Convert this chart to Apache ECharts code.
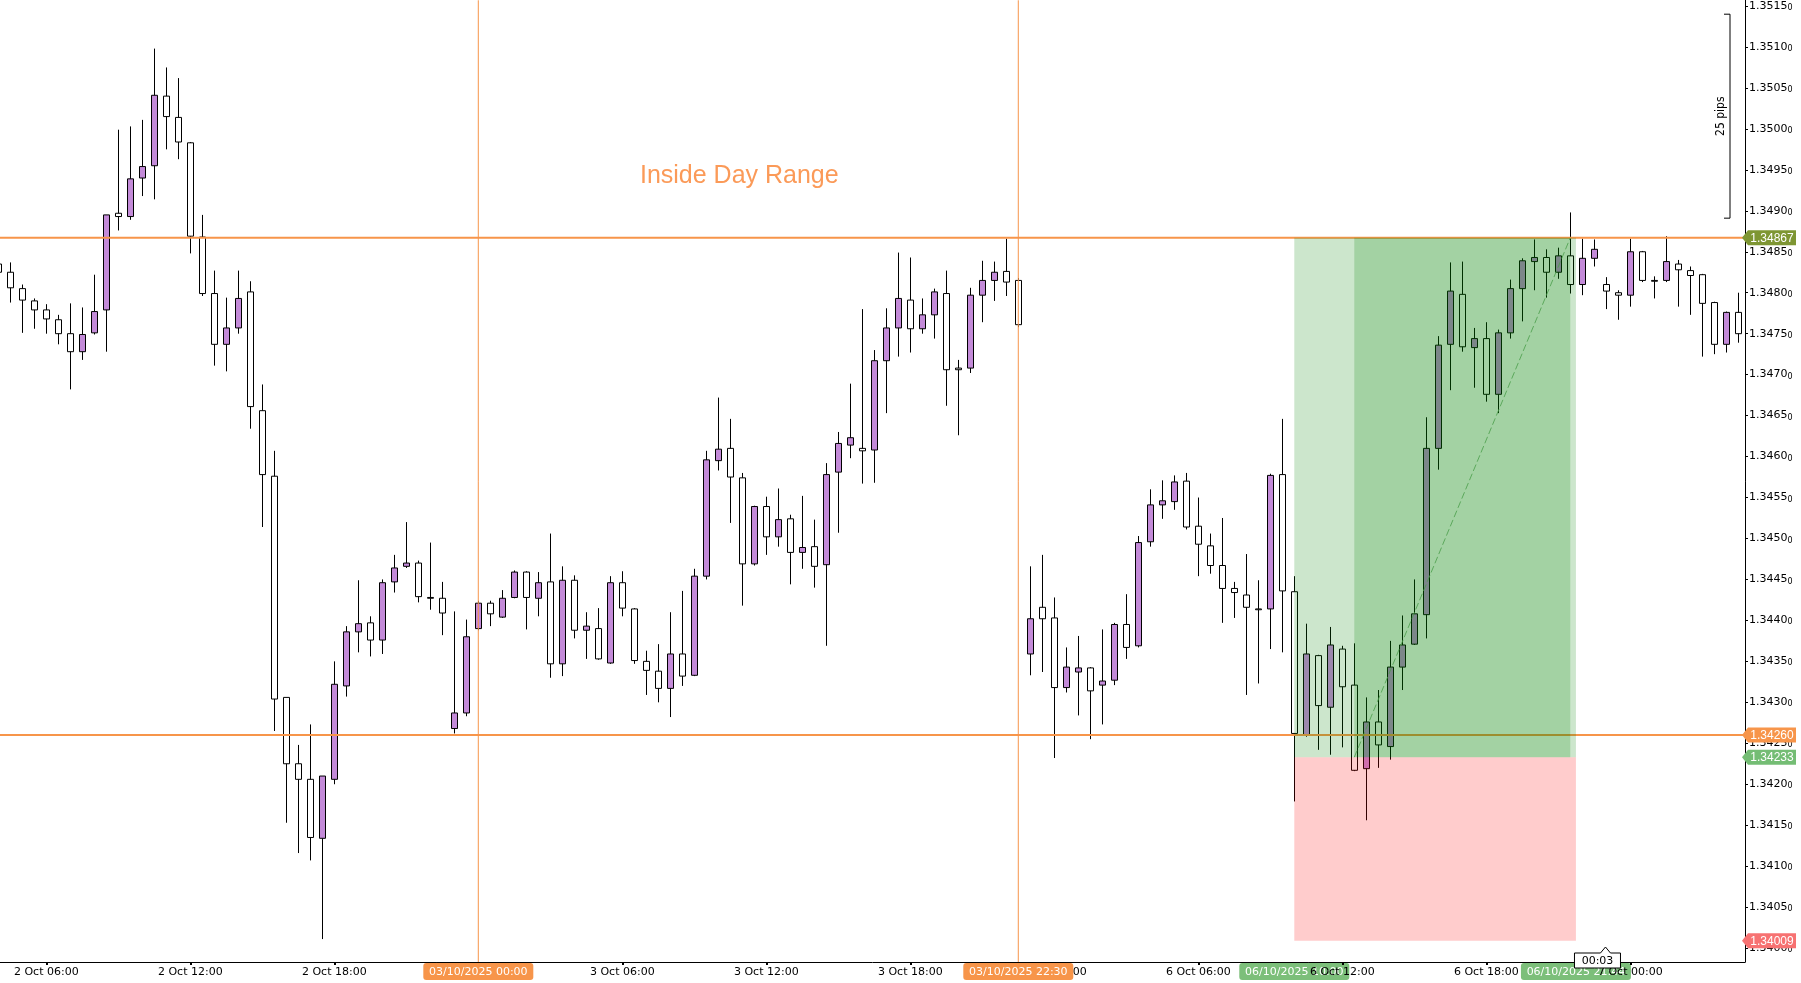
<!DOCTYPE html>
<html><head><meta charset="utf-8">
<script src="https://cdn.jsdelivr.net/npm/echarts@6/dist/echarts.min.js"></script>
<style>html,body{margin:0;padding:0;background:#fff;overflow:hidden}#c{width:1801px;height:983px}</style>
</head><body><div id="c"></div>
<script>
// ---- data (30-minute candles, index 0 = 2 Oct 04:00) ----
const opens = [1.34835,1.34825,1.34805,1.34790,1.34779,1.34767,1.34750,1.34728,1.34751,1.34779,
1.34897,1.34893,1.34940,1.34955,1.35040,1.35014,1.34983,1.34868,1.34799,1.34737,
1.34757,1.34801,1.34656,1.34576,1.34306,1.34225,1.34206,1.34134,1.34206,1.34320,
1.34386,1.34397,1.34376,1.34447,1.34466,1.34470,1.34428,1.34427,1.34268,1.34287,
1.34390,1.34421,1.34404,1.34428,1.34459,1.34427,1.34447,1.34347,1.34449,1.34388,
1.34390,1.34348,1.34446,1.34414,1.34350,1.34338,1.34317,1.34359,1.34333,1.34454,
1.34595,1.34610,1.34574,1.34469,1.34539,1.34502,1.34524,1.34483,1.34490,1.34468,
1.34581,1.34614,1.34610,1.34608,1.34717,1.34757,1.34791,1.34756,1.34773,1.34799,
1.34708,1.34708,1.34797,1.34815,1.34826,1.34815,1.34359,1.34416,1.34403,1.34318,
1.34337,1.34342,1.34321,1.34327,1.34395,1.34369,1.34496,1.34541,1.34545,1.34570,
1.34515,1.34491,1.34467,1.34439,1.34431,1.34414,1.34414,1.34578,1.34435,1.34260,
1.34357,1.34294,1.34365,1.34321,1.34219,1.34276,1.34246,1.34343,1.34371,1.34407,
1.34610,1.34737,1.34798,1.34733,1.34744,1.34676,1.34751,1.34805,1.34838,1.34843,
1.34825,1.34845,1.34810,1.34842,1.34810,1.34800,1.34797,1.34850,1.34815,1.34815,
1.34835,1.34827,1.34822,1.34788,1.34737,1.34776];
const closes = [1.34825,1.34806,1.34791,1.34779,1.34768,1.34750,1.34728,1.34749,1.34777,1.34895,
1.34893,1.34939,1.34954,1.35041,1.35015,1.34984,1.34869,1.34799,1.34737,1.34757,
1.34793,1.34661,1.34578,1.34304,1.34225,1.34206,1.34135,1.34210,1.34322,1.34386,
1.34396,1.34376,1.34446,1.34464,1.34470,1.34429,1.34427,1.34409,1.34287,1.34380,
1.34421,1.34408,1.34427,1.34459,1.34428,1.34446,1.34347,1.34449,1.34388,1.34393,
1.34353,1.34446,1.34415,1.34351,1.34339,1.34317,1.34359,1.34332,1.34454,1.34596,
1.34609,1.34575,1.34469,1.34539,1.34502,1.34523,1.34483,1.34489,1.34466,1.34578,
1.34616,1.34623,1.34607,1.34717,1.34757,1.34793,1.34756,1.34773,1.34801,1.34706,
1.34706,1.34797,1.34815,1.34825,1.34813,1.34761,1.34402,1.34402,1.34318,1.34343,
1.34342,1.34314,1.34326,1.34395,1.34367,1.34495,1.34541,1.34546,1.34569,1.34514,
1.34493,1.34467,1.34439,1.34434,1.34416,1.34413,1.34577,1.34436,1.34262,1.34359,
1.34296,1.34370,1.34319,1.34217,1.34276,1.34248,1.34343,1.34370,1.34408,1.34610,
1.34736,1.34802,1.34734,1.34744,1.34676,1.34751,1.34805,1.34839,1.34843,1.34825,
1.34845,1.34810,1.34842,1.34853,1.34802,1.34797,1.34850,1.34815,1.34814,1.34838,
1.34828,1.34821,1.34787,1.34737,1.34776,1.34750];
const lows = [1.34820,1.34788,1.34751,1.34756,1.34750,1.34737,1.34682,1.34718,1.34749,1.34728,
1.34876,1.34889,1.34918,1.34914,1.34975,1.34963,1.34848,1.34796,1.34711,1.34704,
1.34750,1.34634,1.34514,1.34265,1.34153,1.34116,1.34107,1.34011,1.34200,1.34307,
1.34361,1.34356,1.34359,1.34434,1.34464,1.34422,1.34413,1.34382,1.34262,1.34283,
1.34388,1.34393,1.34403,1.34427,1.34389,1.34405,1.34330,1.34332,1.34378,1.34353,
1.34352,1.34347,1.34405,1.34347,1.34309,1.34300,1.34282,1.34320,1.34332,1.34450,
1.34583,1.34519,1.34418,1.34467,1.34480,1.34490,1.34444,1.34463,1.34440,1.34369,
1.34507,1.34598,1.34567,1.34568,1.34653,1.34722,1.34727,1.34750,1.34744,1.34662,
1.34626,1.34702,1.34764,1.34790,1.34796,1.34758,1.34333,1.34337,1.34232,1.34312,
1.34284,1.34255,1.34273,1.34321,1.34353,1.34367,1.34490,1.34524,1.34535,1.34511,
1.34454,1.34457,1.34397,1.34403,1.34309,1.34323,1.34365,1.34361,1.34179,1.34258,
1.34242,1.34236,1.34245,1.34216,1.34156,1.34220,1.34230,1.34315,1.34370,1.34378,
1.34584,1.34681,1.34728,1.34684,1.34667,1.34653,1.34744,1.34765,1.34803,1.34794,
1.34817,1.34799,1.34797,1.34832,1.34780,1.34767,1.34783,1.34813,1.34793,1.34813,
1.34783,1.34773,1.34722,1.34725,1.34727,1.34739];
const highs = [1.34842,1.34837,1.34810,1.34793,1.34786,1.34773,1.34787,1.34782,1.34822,1.34895,
1.34999,1.35003,1.35011,1.35098,1.35075,1.35062,1.34984,1.34895,1.34827,1.34794,
1.34827,1.34814,1.34688,1.34607,1.34306,1.34248,1.34273,1.34210,1.34350,1.34393,
1.34449,1.34405,1.34450,1.34480,1.34520,1.34473,1.34495,1.34447,1.34411,1.34401,
1.34424,1.34424,1.34437,1.34461,1.34460,1.34459,1.34506,1.34466,1.34455,1.34410,
1.34415,1.34454,1.34460,1.34415,1.34363,1.34371,1.34410,1.34436,1.34463,1.34607,
1.34672,1.34646,1.34580,1.34540,1.34551,1.34561,1.34529,1.34552,1.34523,1.34592,
1.34630,1.34689,1.34780,1.34730,1.34781,1.34849,1.34843,1.34793,1.34805,1.34827,
1.34718,1.34806,1.34839,1.34838,1.34866,1.34818,1.34466,1.34480,1.34428,1.34367,
1.34381,1.34343,1.34389,1.34397,1.34432,1.34503,1.34560,1.34571,1.34577,1.34580,
1.34550,1.34506,1.34525,1.34447,1.34481,1.34449,1.34579,1.34646,1.34454,1.34396,
1.34358,1.34392,1.34369,1.34372,1.34306,1.34315,1.34375,1.34406,1.34450,1.34648,
1.34747,1.34837,1.34838,1.34757,1.34764,1.34755,1.34816,1.34842,1.34865,1.34853,
1.34855,1.34898,1.34866,1.34865,1.34819,1.34803,1.34866,1.34851,1.34820,1.34869,
1.34840,1.34832,1.34823,1.34789,1.34777,1.34800];

const xTickPos = [4,16,28,40,52,64,76,88,100,112,124,136];
const xTickLabels = ['2 Oct 06:00','2 Oct 12:00','2 Oct 18:00','3 Oct 00:00','3 Oct 06:00','3 Oct 12:00',
  '3 Oct 18:00','6 Oct 00:00','6 Oct 06:00','6 Oct 12:00','6 Oct 18:00','7 Oct 00:00'];
const yTicks = [1.3400,1.3405,1.3410,1.3415,1.3420,1.3425,1.3430,1.3435,1.3440,1.3445,1.3450,1.3455,
  1.3460,1.3465,1.3470,1.3475,1.3480,1.3485,1.3490,1.3495,1.3500,1.3505,1.3510,1.3515];

// inside-day range
const rangeHigh = 1.34867, rangeLow = 1.34260;
const rangeStartIdx = 40, rangeEndIdx = 85;
const rangeTitle = 'Inside Day Range';
const rangeTitleAt = [61.75, 1.34942];

// long position tool
const posStartIdx = 108, posFillIdx = 113, posHitIdx = 131, posEndIdx = 131.47;
const entryPrice = 1.34233, stopPrice = 1.34009, targetPrice = 1.34867;

// ruler
const rulerTop = 1.35140, rulerBottom = 1.34891, rulerText = '25 pips';

// time tags
const timeTagPos = [40, 85, 108, 131.47];
const timeTagText = ['03/10/2025 00:00','03/10/2025 22:30','06/10/2025 10:00','06/10/2025 21:44'];
const priceTagVals = [1.34867, 1.34260, 1.34233, 1.34009];
const countdownText = '00:03', countdownPos = 133.6;

// ---- view ----
const xMin = 0.14, xMax = 145.56, yMin = 1.33983, yMax = 1.35157;
const ORANGE = '#f7954a';
const FONT = 'DejaVu Sans';

const candles = opens.map((o, i) => [i, o, closes[i], lows[i], highs[i]]);
const boxes = [
  [posStartIdx, posEndIdx, entryPrice, targetPrice],
  [posFillIdx, posHitIdx, entryPrice, targetPrice],
  [posStartIdx, posEndIdx, stopPrice, entryPrice]
];
const boxFill = ['rgba(0,128,0,0.2)', 'rgba(0,128,0,0.2)', 'rgba(255,0,0,0.2)'];

function refLine(points, width) {
  return {type: 'line', z: 5, silent: true, symbol: 'none', animation: false, clip: true,
    data: points, lineStyle: {color: ORANGE, width: width, type: 'solid'}};
}

const chart = echarts.init(document.getElementById('c'), null, {renderer: 'canvas'});
const option = {
  animation: false,
  backgroundColor: '#ffffff',
  grid: {left: 0, right: 56, top: 0, bottom: 21, containLabel: false},
  xAxis: {
    type: 'value', min: xMin, max: xMax, z: 50,
    axisLine: {onZero: false, lineStyle: {color: '#000', width: 1}},
    splitLine: {show: false},
    axisTick: {customValues: xTickPos, length: 3, lineStyle: {color: '#000', width: 2}},
    axisLabel: {
      customValues: xTickPos, margin: 5, color: '#000', fontFamily: FONT, fontSize: 11,
      formatter: v => { const i = xTickPos.indexOf(Math.round(v)); return i >= 0 ? xTickLabels[i] : ''; }
    }
  },
  yAxis: {
    type: 'value', position: 'right', min: yMin, max: yMax, scale: true, z: 50,
    axisLine: {show: true, onZero: false, lineStyle: {color: '#000', width: 1}},
    splitLine: {show: false},
    axisTick: {show: true, customValues: yTicks, length: 3, lineStyle: {color: '#000'}},
    axisLabel: {
      customValues: yTicks, margin: 4, color: '#000',
      formatter: v => '{a|' + v.toFixed(4) + '}{b|0}',
      rich: {
        a: {fontFamily: FONT, fontSize: 11, color: '#000', lineHeight: 13},
        b: {fontFamily: FONT, fontSize: 8, color: '#000', padding: [4, 0, 0, 0], lineHeight: 13}
      }
    }
  },
  series: [
    {
      type: 'candlestick',
      data: candles,
      encode: {x: 0, y: [1, 2, 3, 4]},
      barWidth: 6,
      silent: true,
      itemStyle: {color: '#c38ad8', color0: '#ffffff', borderColor: '#000', borderColor0: '#000', borderWidth: 1}
    },
    refLine([[xMin, rangeHigh], [xMax, rangeHigh]], 2),
    refLine([[xMin, rangeLow], [xMax, rangeLow]], 2),
    refLine([[rangeStartIdx, yMin], [rangeStartIdx, yMax]], 1),
    refLine([[rangeEndIdx, yMin], [rangeEndIdx, yMax]], 1),
    {
      type: 'custom', z: 10, silent: true, clip: true,
      data: boxes,
      encode: {x: [0, 1], y: [2, 3]},
      renderItem: (params, api) => {
        const p0 = api.coord([api.value(0), api.value(3)]);
        const p1 = api.coord([api.value(1), api.value(2)]);
        return {type: 'rect', shape: {x: p0[0], y: p0[1], width: p1[0] - p0[0], height: p1[1] - p0[1]},
          style: {fill: boxFill[params.dataIndex]}};
      }
    },
    {
      type: 'line', z: 11, silent: true, symbol: 'none',
      data: [[posFillIdx, entryPrice], [posHitIdx, targetPrice]],
      lineStyle: {color: '#4a9e4a', width: 1, type: [7, 3], opacity: 0.8}
    }
  ]
};
chart.setOption(option);

// ---- annotations positioned through the axes ----
const px = (x, y) => chart.convertToPixel({xAxisIndex: 0, yAxisIndex: 0}, [x, y]);
const xRight = px(xMax, yMin)[0];
const yBottom = px(xMin, yMin)[1];
const g = [];

const tp = px(rangeTitleAt[0], rangeTitleAt[1]);
g.push({type: 'text', z: 100, x: tp[0], y: tp[1], style: {text: rangeTitle, fill: '#fb9a58',
  font: '25px "Liberation Sans", Arial, sans-serif', align: 'center', verticalAlign: 'middle'}});

// ruler bracket
const rT = px(xMin, rulerTop)[1], rB = px(xMin, rulerBottom)[1];
const rx = xRight - 15;
g.push({type: 'polyline', z: 100, shape: {points: [[rx - 6, rT], [rx, rT], [rx, rB], [rx - 6, rB]]},
  style: {stroke: '#000', lineWidth: 1, fill: null}});
g.push({type: 'text', z: 100, x: rx - 9, y: (rT + rB) / 2, rotation: Math.PI / 2,
  style: {text: rulerText, fill: '#000', font: '12px "Liberation Sans Narrow", "DejaVu Sans Condensed", sans-serif',
    align: 'center', verticalAlign: 'middle'}});

// price tags on the right axis
const tagColors = ['#7e9633', ORANGE, '#74bd74', '#f77272'];
priceTagVals.forEach((v, i) => {
  const y = px(xMin, v)[1];
  const x0 = xRight - 3, x1 = xRight + 51, h = 7.5;
  g.push({type: 'polygon', z: 100, shape: {points: [[x0, y], [x0 + 6, y - h], [x1, y - h], [x1, y + h], [x0 + 6, y + h]]},
    style: {fill: tagColors[i]}});
  g.push({type: 'text', z: 101, x: (x0 + 6 + x1) / 2, y: y + 0.5,
    style: {text: v.toFixed(5), fill: '#fff', font: '12px "Liberation Sans"', align: 'center', verticalAlign: 'middle'}});
});

// time tags on the bottom axis (orange above axis labels, green below them)
const timeTagColors = [ORANGE, ORANGE, '#7cbf7a', '#7cbf7a'];
const timeTagZ = [100, 100, 40, 40];
timeTagPos.forEach((t, i) => {
  const x = px(t, yMin)[0];
  g.push({type: 'rect', z: timeTagZ[i], shape: {x: x - 55, y: yBottom + 1, width: 110, height: 17, r: 3},
    style: {fill: timeTagColors[i]}});
  g.push({type: 'text', z: timeTagZ[i] + 1, x: x, y: yBottom + 10,
    style: {text: timeTagText[i], fill: '#fff', font: '11px "DejaVu Sans"', align: 'center', verticalAlign: 'middle'}});
});

// countdown box
const cx = px(countdownPos, yMin)[0];
g.push({type: 'polygon', z: 102, shape: {points: [[cx - 27, yBottom - 9], [cx - 1, yBottom - 9], [cx + 4, yBottom - 15],
  [cx + 9, yBottom - 9], [cx + 19, yBottom - 9], [cx + 19, yBottom + 6], [cx - 27, yBottom + 6]]},
  style: {fill: '#fff', stroke: '#000', lineWidth: 1}});
g.push({type: 'text', z: 103, x: cx - 4, y: yBottom - 1,
  style: {text: countdownText, fill: '#000', font: '11px "DejaVu Sans"', align: 'center', verticalAlign: 'middle'}});

chart.setOption({graphic: g});
</script>
</body></html>
